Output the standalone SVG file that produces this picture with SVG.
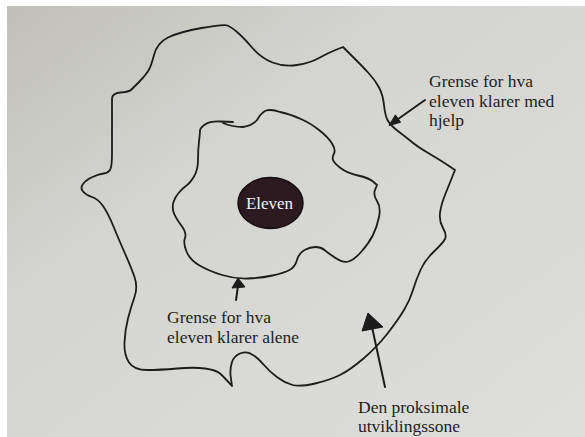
<svg xmlns="http://www.w3.org/2000/svg" width="585" height="437" viewBox="0 0 585 437">
<defs>
<linearGradient id="paper" x1="0" y1="0" x2="1" y2="1">
<stop offset="0" stop-color="#c0bfb8"/>
<stop offset="0.35" stop-color="#d4d4d1"/>
<stop offset="1" stop-color="#dedfdd"/>
</linearGradient>
<style>
.line{fill:none;stroke:#1c1c1c;stroke-width:1.8;stroke-linecap:round;stroke-linejoin:round}
.arrow{fill:none;stroke:#1c1c1c;stroke-width:2;stroke-linecap:round}
.head{fill:#1c1c1c;stroke:#1c1c1c;stroke-width:1;stroke-linejoin:round}
text{font-family:'Liberation Serif','DejaVu Serif','Times New Roman',serif}
.lbl{font-size:17.5px;fill:#1e1e1e}
</style>
</defs>
<rect x="0" y="0" width="585" height="437" fill="#ffffff"/>
<rect x="7" y="6" width="578" height="431" fill="url(#paper)"/>

<g id="outer-boundary">
<path class="line" d="M 227.5,25.5 Q 224,24 201.5,28 Q 179,32 168,37.5 Q 157,43 154,55 Q 151,67 147.5,72 Q 144,77 139,82 Q 134,87 131.5,89.5 Q 129,92 120.5,92.5 Q 112,93 112,99 Q 112,105 112,122.5 Q 112,140 112,153.5 Q 112,167 110,170 Q 108,173 103.5,173.5 Q 99,174 92.5,177 Q 86,180 83,184 Q 80,188 83,191.5 Q 86,195 92,197 Q 98,199 103,206 Q 108,213 113.5,226.5 Q 119,240 125,253.5 Q 131,267 134.5,277 Q 138,287 134.5,297 Q 131,307 128,318.5 Q 125,330 124.5,342.5 Q 124,355 129,362.5 Q 134,370 147,370 Q 160,370 177,368.5 Q 194,367 205,368.5 Q 216,370 220,373.5 Q 224,377 232,386 L 230.5,375 Q 230,368 232,362 Q 234,356 240,353.5 Q 247,351 252,354.5 Q 257,357 263.5,364.5 Q 270,372 277.5,377.5 Q 285,383 292.5,385 Q 300,387 315,383.5 Q 330,380 340,375 Q 350,370 363.5,358.5 Q 377,347 387.5,333.5 Q 398,320 404,310 Q 410,300 413,290 Q 416,280 420.5,270 Q 425,260 434,251.5 Q 443,243 445,239 Q 447,235 443,228 Q 439,221 440,213 Q 441,205 445,195 Q 449,185 452,177.5 L 455,170 L 447.5,165 Q 440,160 429,153.5 Q 418,147 412.5,142.5 Q 407,138 398.5,131.5 Q 390,125 387.5,120 Q 385,115 384,105 Q 383,95 379,87.5 Q 375,80 368.5,73 Q 362,66 358,62 Q 354,58 348.5,52.5 L 343,47 L 335.5,50 Q 328,53 319,58 Q 310,63 297,65 Q 284,67 272.5,62.5 Q 261,58 252,47.5 Q 243,37 237,32 Q 231,27 227.5,25.5 Z"/>
</g>

<g id="inner-boundary">
<path class="line" d="M 223,123 Q 232,127 243,127 Q 252,126 257,120 Q 261,113 266,110.5 Q 272,109 280,112 Q 290,114 302,119.5 Q 310,123 319,130 Q 328,137 332,143.5 Q 336,150 334,153.5 Q 332,157 333,160 Q 334,163 340.5,168 Q 347,173 358,175.5 Q 369,178 373,181.5 L 377,185 L 375,190 Q 373,195 377,201 Q 381,207 379,217 Q 377,227 373,235 Q 369,243 361.5,251.5 Q 354,260 348.5,261.5 Q 343,263 335.5,258 Q 328,253 324.5,250 Q 321,247 315.5,247 Q 310,247 304.5,250 Q 299,253 297,260 Q 295,267 289.5,270 Q 284,273 272.5,275.5 Q 261,278 248,278.5 Q 235,279 222,275 Q 209,271 199.5,265.5 Q 190,260 186.5,251.5 Q 183,243 185,238 Q 187,233 181,225 Q 175,217 173.5,212 Q 172,207 173.5,202 Q 175,197 179,192.5 Q 183,188 186.5,185.5 Q 190,183 194,176.5 Q 198,170 198,160 Q 198,150 199,141.5 Q 200,133 200,130.5 Q 200,128 205,124.5 Q 210,121 221,121.5 L 233,122"/>
</g>

<g id="eleven">
<ellipse cx="270.5" cy="203" rx="32.5" ry="25.5" fill="#2b1b21" stroke="#170d11" stroke-width="1.5"/>
<text x="269.5" y="209" text-anchor="middle" font-size="17px" fill="#f4f4f4">Eleven</text>
</g>

<g id="label-hjelp">
<text class="lbl" x="429" y="87">Grense for hva</text>
<text class="lbl" x="429" y="107">eleven klarer med</text>
<text class="lbl" x="429" y="126">hjelp</text>
</g>

<g id="label-alene">
<text class="lbl" x="167" y="323">Grense for hva</text>
<text class="lbl" x="167" y="343">eleven klarer alene</text>
</g>

<g id="label-sone">
<text class="lbl" x="358" y="413">Den proksimale</text>
<text class="lbl" x="358" y="432">utviklingssone</text>
</g>

<g id="connectors">
<line class="arrow" x1="425" y1="100" x2="396" y2="120.5"/>
<polygon class="head" points="389,125.5 395.4,114.9 400.6,122.3"/>
<line class="arrow" x1="236" y1="300" x2="238" y2="286"/>
<polygon class="head" points="238,278 232,288 245,287"/>
<line class="arrow" x1="385" y1="387" x2="372" y2="327"/>
<polygon class="head" points="368,313 362,331 383,327"/>
</g>
</svg>
